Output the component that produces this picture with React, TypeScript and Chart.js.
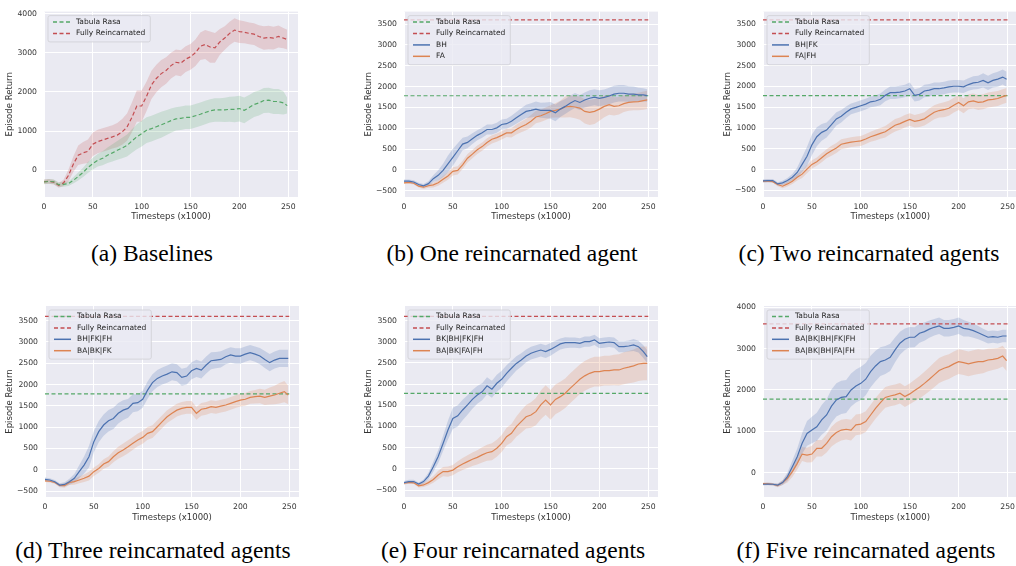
import React, { useEffect, useRef } from 'react';
import { Chart, registerables } from 'chart.js';

Chart.register(...registerables);

// ---------------- DATA ----------------
const STEPS = [
  0, 5, 10, 15, 20, 25, 30, 35, 40, 45,
  50, 55, 60, 65, 70, 75, 80, 85, 90, 95,
  100, 105, 110, 115, 120, 125, 130, 135, 140, 145,
  150, 155, 160, 165, 170, 175, 180, 185, 190, 195,
  200, 205, 210, 215, 220, 225, 230, 235, 240, 245,
  249,
];
const X_TICKS = [0, 50, 100, 150, 200, 250];
const Y_TICKS_K = [0, 1000, 2000, 3000, 4000];
const Y_TICKS_H = [-500, 0, 500, 1000, 1500, 2000, 2500, 3000, 3500];

const TABULA_REF = 1780;
const FULLY_REF = 3600;

// (a) Baselines
const aTabulaMean = [
  -306, -290, -300, -375, -365, -350, -265, -165, -60, 65,
  165, 250, 300, 380, 440, 505, 565, 630, 745, 850,
  935, 1020, 1060, 1110, 1160, 1210, 1265, 1310, 1325, 1350,
  1350, 1390, 1430, 1475, 1515, 1540, 1540, 1540, 1555, 1555,
  1575, 1530, 1600, 1680, 1720, 1780, 1790, 1755, 1755, 1720,
  1650,
];
const aTabulaHalf = [
  60, 60, 60, 60, 60, 60, 80, 100, 120, 140,
  150, 160, 180, 200, 220, 240, 260, 280, 300, 320,
  330, 330, 330, 330, 330, 320, 310, 300, 300, 300,
  300, 300, 300, 300, 300, 300, 300, 310, 320, 330,
  330, 330, 320, 320, 320, 320, 320, 320, 320, 300,
  200,
];
const aFullyMean = [
  -300, -290, -310, -390, -330, -140, 150, 380, 440, 480,
  660, 730, 770, 810, 850, 895, 975, 1100, 1350, 1640,
  1640, 1890, 2180, 2345, 2470, 2550, 2675, 2760, 2735, 2840,
  2900, 3005, 3170, 3215, 3150, 3130, 3280, 3380, 3500, 3585,
  3545, 3530, 3500, 3480, 3420, 3380, 3395, 3380, 3420, 3380,
  3340,
];
const aFullyHalf = [
  60, 60, 60, 60, 80, 150, 200, 250, 280, 300,
  300, 300, 300, 300, 300, 310, 330, 350, 380, 400,
  400, 380, 360, 350, 350, 340, 330, 330, 330, 330,
  330, 340, 350, 370, 400, 380, 330, 300, 300, 300,
  290, 280, 280, 280, 290, 300, 300, 290, 280, 260,
  250,
];

// (b) One reincarnated agent
const bBHMean = [
  -270, -270, -290, -350, -380, -330, -210, -130, -10, 145,
  300, 460, 620, 660, 750, 830, 890, 970, 970, 1010,
  1090, 1110, 1170, 1250, 1330, 1405, 1430, 1460, 1430, 1430,
  1430, 1370, 1460, 1525, 1600, 1665, 1620, 1680, 1720, 1745,
  1720, 1740, 1775, 1820, 1840, 1840, 1820, 1820, 1800, 1800,
  1785,
];
const bBHHalf = [
  40, 40, 40, 40, 40, 60, 80, 120, 160, 200,
  200, 180, 150, 140, 130, 120, 120, 120, 120, 120,
  120, 120, 130, 140, 150, 160, 170, 180, 180, 190,
  200, 200, 190, 180, 180, 180, 180, 180, 190, 190,
  190, 190, 200, 200, 200, 200, 190, 180, 170, 160,
  150,
];
const bFAMean = [
  -310, -300, -320, -390, -415, -380, -360, -310, -225, -145,
  -35, -10, 120, 280, 380, 485, 560, 660, 735, 775,
  830, 890, 890, 970, 1035, 1090, 1170, 1270, 1300, 1350,
  1405, 1430, 1460, 1510, 1525, 1510, 1485, 1405, 1380, 1405,
  1460, 1525, 1565, 1525, 1540, 1590, 1620, 1635, 1640, 1665,
  1680,
];
const bFAHalf = [
  30, 30, 30, 30, 40, 50, 60, 70, 80, 90,
  100, 100, 100, 100, 100, 100, 100, 100, 100, 100,
  100, 100, 110, 120, 130, 140, 150, 150, 150, 150,
  150, 170, 200, 250, 260, 270, 280, 290, 300, 300,
  280, 260, 240, 220, 210, 200, 200, 200, 210, 220,
  220,
];

// (c) Two reincarnated agents
const cBlueMean = [
  -273, -265, -265, -345, -320, -265, -185, -70, 125, 320,
  595, 790, 895, 950, 1080, 1220, 1285, 1380, 1460, 1495,
  1535, 1575, 1630, 1650, 1690, 1785, 1850, 1850, 1865, 1890,
  1945, 1785, 1810, 1890, 1910, 1945, 1945, 1965, 1990, 2005,
  2005, 1990, 2045, 2085, 2100, 2145, 2085, 2145, 2175, 2225,
  2175,
];
const cBlueHalf = [
  40, 40, 40, 40, 50, 60, 80, 120, 180, 230,
  250, 230, 200, 180, 170, 160, 150, 140, 130, 130,
  130, 130, 130, 130, 140, 140, 150, 150, 150, 150,
  150, 150, 150, 150, 150, 150, 150, 150, 150, 150,
  150, 150, 150, 160, 160, 170, 170, 170, 180, 180,
  180,
];
const cOrangeMean = [
  -280, -275, -290, -360, -400, -345, -280, -185, -110, 10,
  125, 190, 285, 380, 455, 520, 610, 635, 660, 675,
  690, 735, 790, 830, 870, 910, 990, 1065, 1105, 1160,
  1205, 1160, 1185, 1220, 1300, 1380, 1420, 1440, 1475, 1550,
  1615, 1535, 1630, 1650, 1615, 1630, 1675, 1690, 1710, 1755,
  1785,
];
const cOrangeHalf = [
  30, 30, 30, 40, 50, 60, 70, 80, 90, 100,
  100, 100, 110, 110, 120, 120, 120, 120, 120, 120,
  120, 120, 120, 130, 130, 140, 140, 150, 150, 150,
  150, 150, 160, 160, 170, 170, 170, 180, 180, 180,
  180, 180, 180, 180, 180, 180, 180, 180, 180, 180,
  180,
];

// (d) Three reincarnated agents
const dBlueMean = [
  -225, -240, -280, -360, -345, -280, -200, -45, 110, 305,
  660, 895, 1050, 1150, 1205, 1325, 1400, 1440, 1560, 1575,
  1655, 1870, 2045, 2145, 2200, 2245, 2300, 2280, 2170, 2200,
  2325, 2380, 2340, 2460, 2560, 2575, 2590, 2655, 2695, 2670,
  2670, 2715, 2750, 2715, 2670, 2590, 2515, 2575, 2615, 2615,
  2615,
];
const dBlueHalf = [
  40, 40, 40, 40, 50, 70, 100, 150, 200, 250,
  250, 250, 250, 250, 250, 240, 230, 220, 210, 200,
  200, 200, 200, 200, 200, 200, 200, 200, 200, 200,
  200, 200, 200, 200, 200, 190, 190, 180, 180, 180,
  180, 180, 180, 180, 190, 200, 200, 200, 200, 200,
  200,
];
const dOrangeMean = [
  -260, -270, -300, -370, -375, -300, -280, -240, -200, -150,
  -45, 30, 135, 190, 305, 400, 465, 540, 620, 700,
  760, 855, 895, 1010, 1130, 1245, 1325, 1400, 1440, 1465,
  1465, 1325, 1420, 1440, 1480, 1465, 1495, 1520, 1560, 1600,
  1635, 1655, 1700, 1715, 1730, 1700, 1730, 1755, 1795, 1835,
  1755,
];
const dOrangeHalf = [
  30, 30, 30, 40, 50, 60, 70, 80, 90, 100,
  100, 100, 110, 120, 130, 140, 150, 150, 150, 150,
  150, 150, 150, 150, 150, 150, 150, 150, 150, 150,
  150, 150, 150, 150, 150, 150, 150, 150, 150, 150,
  150, 150, 150, 160, 170, 180, 200, 220, 240, 250,
  220,
];

// (e) Four reincarnated agents
const eBlueMean = [
  -327, -300, -300, -360, -300, -170, 50, 290, 600, 915,
  1190, 1250, 1390, 1510, 1640, 1745, 1820, 1960, 1880, 2020,
  2115, 2255, 2375, 2490, 2570, 2665, 2730, 2770, 2805, 2770,
  2820, 2885, 2950, 2980, 2980, 2980, 2965, 3005, 3005, 3045,
  2965, 2980, 2995, 2980, 2885, 2885, 2900, 2925, 2885, 2770,
  2650,
];
const eBlueHalf = [
  40, 40, 40, 40, 50, 80, 120, 150, 180, 220,
  250, 250, 240, 230, 220, 210, 200, 200, 200, 200,
  200, 190, 180, 170, 160, 150, 150, 150, 150, 150,
  150, 140, 130, 130, 120, 120, 120, 120, 120, 120,
  120, 120, 120, 120, 130, 130, 130, 140, 140, 150,
  150,
];
const eOrangeMean = [
  -340, -320, -330, -400, -380, -325, -250, -145, -65, -65,
  -30, 50, 115, 170, 225, 270, 330, 380, 405, 485,
  600, 760, 840, 995, 1115, 1230, 1270, 1350, 1510, 1625,
  1510, 1640, 1705, 1785, 1900, 2005, 2115, 2195, 2255, 2295,
  2295, 2320, 2320, 2335, 2335, 2375, 2400, 2430, 2475, 2490,
  2490,
];
const eOrangeHalf = [
  30, 30, 30, 40, 50, 60, 80, 100, 110, 120,
  120, 130, 140, 150, 160, 170, 180, 190, 200, 200,
  200, 210, 220, 240, 260, 280, 300, 320, 340, 350,
  350, 350, 350, 350, 350, 350, 350, 350, 350, 350,
  350, 350, 350, 360, 370, 380, 380, 390, 400, 400,
  400,
];

// (f) Five reincarnated agents
const fBlueMean = [
  -280, -275, -280, -300, -240, -95, 145, 385, 710, 950,
  1030, 1110, 1275, 1395, 1610, 1760, 1820, 1840, 2000, 2095,
  2160, 2260, 2445, 2580, 2685, 2725, 2790, 2970, 3130, 3225,
  3275, 3275, 3370, 3410, 3470, 3515, 3550, 3490, 3490, 3515,
  3550, 3490, 3470, 3435, 3385, 3330, 3275, 3290, 3275, 3305,
  3305,
];
const fBlueHalf = [
  30, 30, 30, 40, 60, 100, 150, 200, 250, 300,
  320, 340, 360, 380, 400, 400, 400, 400, 400, 400,
  400, 390, 380, 370, 350, 340, 330, 300, 280, 260,
  250, 240, 230, 220, 210, 200, 200, 200, 200, 200,
  200, 200, 180, 170, 160, 150, 150, 150, 150, 150,
  150,
];
const fOrangeMean = [
  -265, -270, -280, -310, -240, -135, 25, 225, 450, 425,
  450, 590, 590, 710, 870, 970, 1030, 1050, 1030, 1155,
  1175, 1235, 1395, 1555, 1695, 1820, 1855, 1880, 1920, 1840,
  1905, 1985, 2065, 2160, 2260, 2365, 2470, 2525, 2565, 2630,
  2685, 2660, 2630, 2660, 2685, 2685, 2725, 2740, 2765, 2820,
  2710,
];
const fOrangeHalf = [
  30, 30, 30, 40, 60, 100, 130, 150, 170, 180,
  200, 200, 200, 220, 240, 250, 250, 250, 250, 250,
  250, 250, 250, 250, 250, 250, 250, 250, 250, 250,
  250, 260, 270, 280, 290, 300, 300, 300, 300, 300,
  300, 300, 300, 300, 300, 280, 270, 260, 250, 250,
  250,
];

// ---------------- STYLE ----------------
const BLUE = '#4C72B0';
const ORANGE = '#DD8452';
const GREEN = '#55A868';
const RED = '#C44E52';
const BLUE_BAND = 'rgba(76,114,176,0.22)';
const ORANGE_BAND = 'rgba(221,132,82,0.22)';
const GREEN_BAND = 'rgba(85,168,104,0.2)';
const RED_BAND = 'rgba(196,78,82,0.2)';
const DASH = [4, 2.5];
const FONT = "'DejaVu Sans', sans-serif";
const TEXT = '#333333';

type Series = {
  label: string;
  color: string;
  band: string;
  mean: number[];
  half: number[];
  dash?: number[];
};

type PanelCfg = {
  x: number; y: number; w: number; h: number;
  plotL: number; plotT: number; plotR: number; plotB: number;
  ymin: number; ymax: number; yticks: number[];
  refs: boolean;
  yTitleX: number; xTitleY: number;
  series: Series[];
};

const bgPlugin = {
  id: 'plotBg',
  beforeDraw(chart: any) {
    const { ctx, chartArea: a } = chart;
    ctx.save();
    ctx.fillStyle = '#EAEAF2';
    ctx.fillRect(a.left, a.top, a.right - a.left, a.bottom - a.top);
    ctx.restore();
  },
};

const legendPlugin = {
  id: 'boxLegend',
  afterDraw(chart: any) {
    const items = chart.data.datasets
      .filter((d: any) => d.legendIndex !== undefined)
      .sort((p: any, q: any) => p.legendIndex - q.legendIndex);
    const { ctx, chartArea: a } = chart;
    ctx.save();
    ctx.font = `7.5px ${FONT}`;
    const rowH = 11.4;
    const maxW = Math.max(...items.map((i: any) => ctx.measureText(i.label).width));
    const x0 = a.left + 4;
    const y0 = a.top + 4;
    const w = 5 + 17 + 6 + maxW + 5;
    const h = items.length * rowH + 3.5;
    ctx.beginPath();
    if ((ctx as any).roundRect) (ctx as any).roundRect(x0, y0, w, h, 2);
    else ctx.rect(x0, y0, w, h);
    ctx.fillStyle = 'rgba(234,234,242,0.8)';
    ctx.fill();
    ctx.lineWidth = 0.8;
    ctx.strokeStyle = '#cfcfd4';
    ctx.stroke();
    items.forEach((it: any, i: number) => {
      const cy = y0 + 6.5 + i * rowH;
      ctx.beginPath();
      ctx.setLineDash(it.borderDash || []);
      ctx.strokeStyle = it.borderColor;
      ctx.lineWidth = 1.5;
      ctx.moveTo(x0 + 5, cy);
      ctx.lineTo(x0 + 22, cy);
      ctx.stroke();
      ctx.setLineDash([]);
      ctx.fillStyle = '#262626';
      ctx.textBaseline = 'middle';
      ctx.textAlign = 'left';
      ctx.fillText(it.label, x0 + 28, cy);
    });
    ctx.restore();
  },
};

function fmt(v: number) {
  return v < 0 ? '\u2212' + Math.abs(v) : String(v);
}

function buildDatasets(cfg: PanelCfg) {
  const ds: any[] = [];
  cfg.series.forEach((s) => {
    ds.push({
      label: s.label + ' upper',
      data: STEPS.map((t, j) => ({ x: t, y: s.mean[j] + s.half[j] })),
      borderColor: 'rgba(0,0,0,0)',
      borderWidth: 1,
      pointRadius: 0,
      fill: false,
      order: 20,
    });
    ds.push({
      label: s.label + ' lower',
      data: STEPS.map((t, j) => ({ x: t, y: s.mean[j] - s.half[j] })),
      borderColor: 'rgba(0,0,0,0)',
      borderWidth: 1,
      pointRadius: 0,
      fill: '-1',
      backgroundColor: s.band,
      order: 20,
    });
  });
  let li = 0;
  if (cfg.refs) {
    ds.push({
      label: 'Tabula Rasa',
      data: [{ x: 0, y: TABULA_REF }, { x: 250, y: TABULA_REF }],
      borderColor: GREEN,
      borderWidth: 1.2,
      borderDash: DASH,
      pointRadius: 0,
      fill: false,
      order: 2,
      legendIndex: li++,
    });
    ds.push({
      label: 'Fully Reincarnated',
      data: [{ x: 0, y: FULLY_REF }, { x: 250, y: FULLY_REF }],
      borderColor: RED,
      borderWidth: 1.2,
      borderDash: DASH,
      pointRadius: 0,
      fill: false,
      order: 2,
      legendIndex: li++,
    });
  }
  cfg.series.forEach((s) => {
    ds.push({
      label: s.label,
      data: STEPS.map((t, j) => ({ x: t, y: s.mean[j] })),
      borderColor: s.color,
      borderWidth: 1.2,
      borderDash: s.dash || [],
      pointRadius: 0,
      fill: false,
      order: 1,
      legendIndex: li++,
    });
  });
  return ds;
}

function Panel({ cfg }: { cfg: PanelCfg }) {
  const ref = useRef<HTMLCanvasElement>(null);
  useEffect(() => {
    const yAxisW = cfg.plotL - cfg.x;
    const xAxisH = cfg.y + cfg.h - cfg.plotB;
    const titleHalf = (8.5 * 1.2) / 2;
    const chart = new Chart(ref.current as HTMLCanvasElement, {
      type: 'line',
      data: { datasets: buildDatasets(cfg) },
      plugins: [bgPlugin, legendPlugin],
      options: {
        animation: false,
        responsive: false,
        maintainAspectRatio: false,
        events: [],
        layout: {
          padding: {
            left: 0,
            top: cfg.plotT - cfg.y,
            right: cfg.x + cfg.w - cfg.plotR,
            bottom: 0,
          },
        },
        elements: { line: { tension: 0 }, point: { radius: 0 } },
        plugins: {
          legend: { display: false },
          tooltip: { enabled: false },
        },
        scales: {
          x: {
            type: 'linear',
            min: 0,
            max: 260,
            afterBuildTicks: (ax: any) => {
              ax.ticks = X_TICKS.map((v) => ({ value: v }));
            },
            afterFit: (s: any) => {
              s.height = xAxisH;
            },
            grid: { color: '#ffffff', lineWidth: 1, drawTicks: false },
            border: { display: false },
            ticks: {
              padding: 5,
              color: TEXT,
              autoSkip: false,
              maxRotation: 0,
              font: { family: FONT, size: 7.7 },
              callback: (v: any) => fmt(Number(v)),
            },
            title: {
              display: true,
              text: 'Timesteps (x1000)',
              color: TEXT,
              font: { family: FONT, size: 8.5 },
              padding: { top: 0, bottom: cfg.y + cfg.h - cfg.xTitleY - titleHalf },
            },
          },
          y: {
            type: 'linear',
            min: cfg.ymin,
            max: cfg.ymax,
            afterBuildTicks: (ax: any) => {
              ax.ticks = cfg.yticks.map((v) => ({ value: v }));
            },
            afterFit: (s: any) => {
              s.width = yAxisW;
            },
            grid: { color: '#ffffff', lineWidth: 1, drawTicks: false },
            border: { display: false },
            ticks: {
              padding: 7,
              color: TEXT,
              autoSkip: false,
              font: { family: FONT, size: 7.7 },
              callback: (v: any) => fmt(Number(v)),
            },
            title: {
              display: true,
              text: 'Episode Return',
              color: TEXT,
              font: { family: FONT, size: 8.5 },
              padding: { top: cfg.yTitleX - cfg.x - titleHalf, bottom: 0 },
            },
          },
        },
      } as any,
    });
    return () => chart.destroy();
  }, [cfg]);
  return (
    <canvas
      ref={ref}
      width={cfg.w}
      height={cfg.h}
      style={{ position: 'absolute', left: cfg.x, top: cfg.y, width: cfg.w, height: cfg.h }}
    />
  );
}

const PANELS: PanelCfg[] = [
  {
    x: 0, y: 0, w: 340, h: 230, plotL: 44, plotT: 6, plotR: 298, plotB: 197,
    ymin: -690, ymax: 4057, yticks: Y_TICKS_K, refs: false, yTitleX: 10, xTitleY: 217,
    series: [
      { label: 'Tabula Rasa', color: GREEN, band: GREEN_BAND, mean: aTabulaMean, half: aTabulaHalf, dash: DASH },
      { label: 'Fully Reincarnated', color: RED, band: RED_BAND, mean: aFullyMean, half: aFullyHalf, dash: DASH },
    ],
  },
  {
    x: 340, y: 0, w: 340, h: 230, plotL: 404, plotT: 7, plotR: 658, plotB: 197,
    ymin: -650, ymax: 3800, yticks: Y_TICKS_H, refs: true, yTitleX: 369, xTitleY: 217,
    series: [
      { label: 'BH', color: BLUE, band: BLUE_BAND, mean: bBHMean, half: bBHHalf },
      { label: 'FA', color: ORANGE, band: ORANGE_BAND, mean: bFAMean, half: bFAHalf },
    ],
  },
  {
    x: 680, y: 0, w: 340, h: 230, plotL: 763, plotT: 7, plotR: 1018, plotB: 197,
    ymin: -660, ymax: 3800, yticks: Y_TICKS_H, refs: true, yTitleX: 728, xTitleY: 217,
    series: [
      { label: 'BH|FK', color: BLUE, band: BLUE_BAND, mean: cBlueMean, half: cBlueHalf },
      { label: 'FA|FH', color: ORANGE, band: ORANGE_BAND, mean: cOrangeMean, half: cOrangeHalf },
    ],
  },
  {
    x: 0, y: 290, w: 340, h: 240, plotL: 45, plotT: 306, plotR: 299, plotB: 497,
    ymin: -640, ymax: 3845, yticks: Y_TICKS_H, refs: true, yTitleX: 10, xTitleY: 518,
    series: [
      { label: 'BH|FK|FH', color: BLUE, band: BLUE_BAND, mean: dBlueMean, half: dBlueHalf },
      { label: 'BA|BK|FK', color: ORANGE, band: ORANGE_BAND, mean: dOrangeMean, half: dOrangeHalf },
    ],
  },
  {
    x: 340, y: 290, w: 340, h: 240, plotL: 404, plotT: 306, plotR: 658, plotB: 497,
    ymin: -665, ymax: 3845, yticks: Y_TICKS_H, refs: true, yTitleX: 369, xTitleY: 518,
    series: [
      { label: 'BK|BH|FK|FH', color: BLUE, band: BLUE_BAND, mean: eBlueMean, half: eBlueHalf },
      { label: 'BA|BK|FA|FH', color: ORANGE, band: ORANGE_BAND, mean: eOrangeMean, half: eOrangeHalf },
    ],
  },
  {
    x: 680, y: 290, w: 340, h: 240, plotL: 763, plotT: 306, plotR: 1018, plotB: 497,
    ymin: -588, ymax: 4030, yticks: Y_TICKS_K, refs: true, yTitleX: 728, xTitleY: 518,
    series: [
      { label: 'BA|BK|BH|FK|FH', color: BLUE, band: BLUE_BAND, mean: fBlueMean, half: fBlueHalf },
      { label: 'BA|BK|BH|FA|FH', color: ORANGE, band: ORANGE_BAND, mean: fOrangeMean, half: fOrangeHalf },
    ],
  },
];

const CAPTIONS = [
  { text: '(a) Baselines', cx: 152, cy: 255 },
  { text: '(b) One reincarnated agent', cx: 512, cy: 255 },
  { text: '(c) Two reincarnated agents', cx: 869, cy: 255 },
  { text: '(d) Three reincarnated agents', cx: 153, cy: 552 },
  { text: '(e) Four reincarnated agents', cx: 513, cy: 552 },
  { text: '(f) Five reincarnated agents', cx: 866, cy: 552 },
];

export default function App() {
  return (
    <div
      style={{
        position: 'absolute',
        left: 0,
        top: 0,
        width: 1016,
        height: 566,
        overflow: 'hidden',
        background: '#ffffff',
      }}
    >
      {PANELS.map((p, i) => (
        <Panel key={i} cfg={p} />
      ))}
      {CAPTIONS.map((c, i) => (
        <div
          key={'c' + i}
          style={{
            position: 'absolute',
            left: c.cx - 200,
            top: c.cy - 17,
            width: 400,
            height: 30,
            lineHeight: '30px',
            textAlign: 'center',
            fontFamily: "'Liberation Serif', 'Times New Roman', serif",
            fontSize: 23.5,
            color: '#000000',
            whiteSpace: 'nowrap',
          }}
        >
          {c.text}
        </div>
      ))}
    </div>
  );
}
